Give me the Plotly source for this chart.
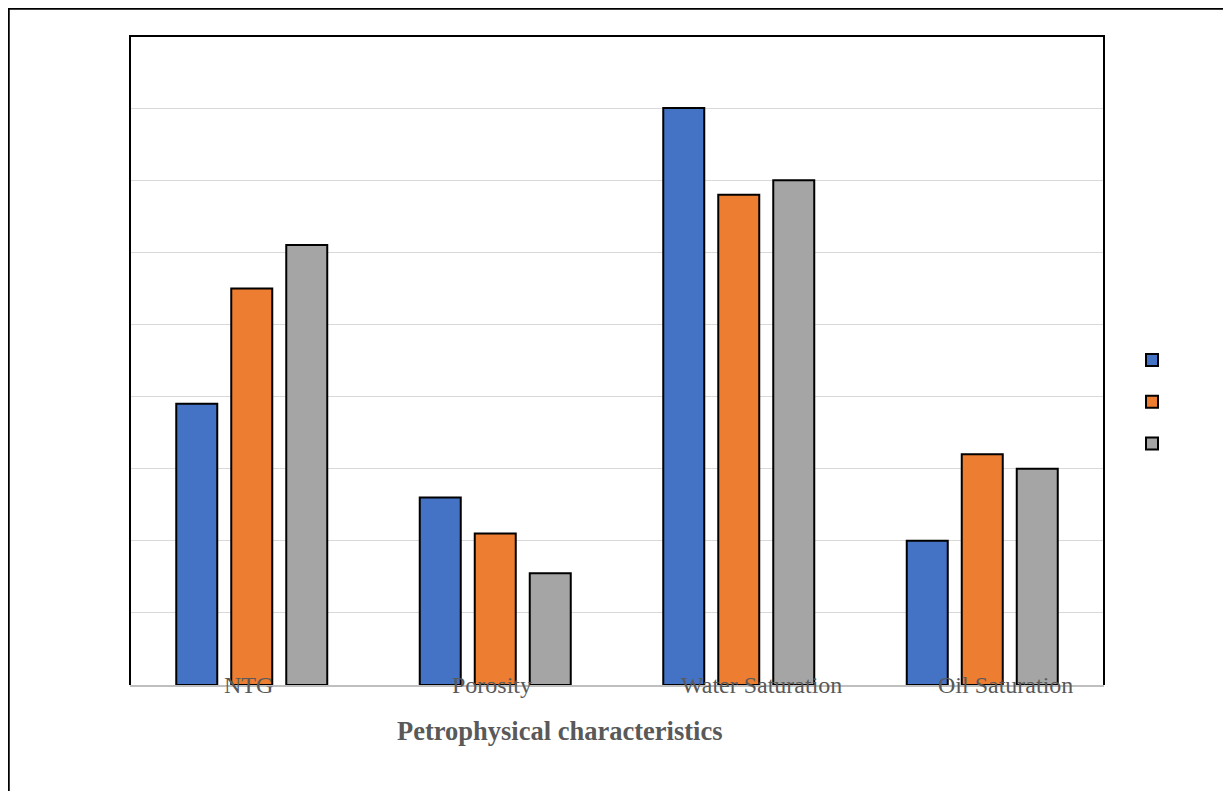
import plotly.graph_objects as go

categories = ["NTG", "Porosity", "Water Saturation", "Oil Saturation"]
series_a = [3.9, 2.6, 8.0, 2.0]
series_b = [5.5, 2.1, 6.8, 3.2]
series_c = [6.1, 1.55, 7.0, 3.0]
series_names = [" ", " ", " "]
colors = ["#4472C4", "#ED7D31", "#A5A5A5"]
x_title = "Petrophysical characteristics"
label_xshift = [-3, -3, 23, 23]

# page offset (browser default body margin)
OFF = 8
W, H = 1231 - OFF, 791 - OFF
L, R, T, B = 130 - OFF, 1104 - OFF, 36 - OFF, 685 - OFF
pw, ph = R - L, B - T

fig = go.Figure()
for i, (vals, nm, col) in enumerate(zip([series_a, series_b, series_c], series_names, colors)):
    fig.add_trace(go.Bar(
        x=categories, y=vals, name=nm, legendgroup=f"g{i}",
        marker=dict(color=col, line=dict(color="black", width=2)),
    ))

# category labels overlapping axis
for c, dx in zip(categories, label_xshift):
    fig.add_annotation(x=c, y=0, xref="x", yref="paper", text=c, showarrow=False,
                       yanchor="middle", xshift=dx,
                       font=dict(family="Liberation Serif", size=24, color="#595959"))

fig.add_annotation(x=(560 - OFF - L) / pw, y=(B - (731 - OFF)) / ph, xref="paper", yref="paper",
                   text="<b>" + x_title + "</b>", showarrow=False,
                   xanchor="center", yanchor="middle",
                   font=dict(family="Liberation Serif", size=26.5, color="#595959"))

# plot border (left, top, right) black
fig.add_shape(type="path", xref="paper", yref="paper", path="M0,0 L0,1 L1,1 L1,0",
              line=dict(color="black", width=2), layer="above")
# outer border (sits right at the figure's top-left edge)
fig.add_shape(type="rect", xref="paper", yref="paper",
              x0=(0.5 - L) / pw, x1=(W + 20 - L) / pw,
              y0=(B - (H + 20)) / ph, y1=(B - 0.5) / ph,
              line=dict(color="black", width=2.5), layer="above")

fig.update_layout(
    width=W, height=H,
    margin=dict(l=L, r=W - R, t=T, b=H - B),
    paper_bgcolor="white", plot_bgcolor="white",
    barmode="group", bargap=0.3224, bargroupgap=0.2545,
    showlegend=True,
    legend=dict(x=(1132 - OFF - L) / pw, y=(B - (402 - OFF)) / ph, xanchor="left", yanchor="middle",
                traceorder="grouped", tracegroupgap=20.5,
                font=dict(family="Liberation Serif", size=14, color="#595959"),
                bgcolor="rgba(0,0,0,0)"),
    xaxis=dict(showticklabels=False, ticks="", showline=True, linecolor="#bfbfbf",
               linewidth=1.5, showgrid=False, zeroline=False),
    yaxis=dict(range=[0, 9], dtick=1, showticklabels=False, ticks="", showgrid=True,
               gridcolor="#d9d9d9", gridwidth=1, zeroline=False, showline=False),
)

fig.write_html("out.html")
